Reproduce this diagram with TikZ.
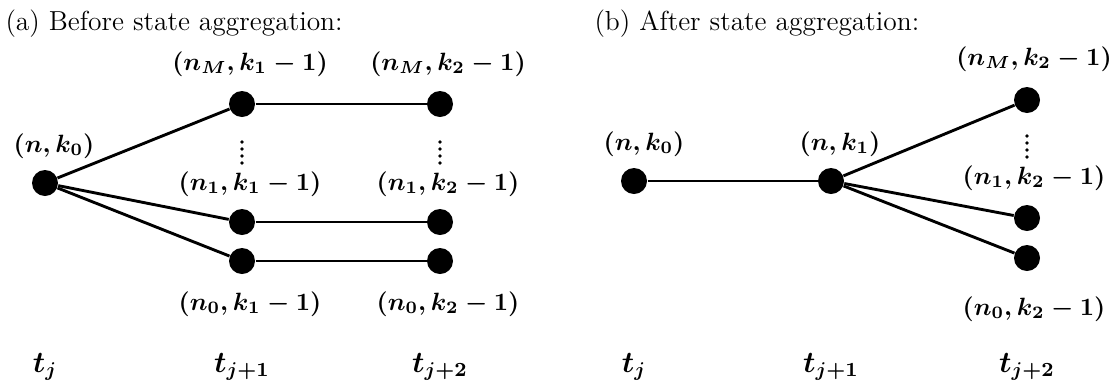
\RequirePackage{fix-cm}
\documentclass[tikz,border=0pt]{standalone}
\begin{document}
\begin{tikzpicture}[x=0.4pt,y=-0.4pt,
  statedot/.style={circle,fill=black,inner sep=0pt,minimum size=10.4pt},
  smalldot/.style={circle,fill=black,inner sep=0pt,minimum size=1.5pt},
  lab/.style={anchor=base,inner sep=0pt,font=\fontsize{10}{12}\selectfont\boldmath},
  tlab/.style={anchor=base,inner sep=0pt,font=\fontsize{12}{14}\selectfont\boldmath},
  ttl/.style={anchor=base west,inner sep=0pt,font=\fontsize{11}{13}\selectfont},
  edge/.style={line width=1.15pt}]
\useasboundingbox (0,0) rectangle (1115,388);

% titles
\node[ttl] (ta) at (5,30) {(a) Before state aggregation:};
\node[ttl] (tb) at (594,30) {(b) After state aggregation:};

% ---------- panel (a) ----------
\node[statedot] (a0) at (45,183) {};
\node[statedot] (aM1) at (242,104) {};
\node[statedot] (aM2) at (440,104) {};
\node[statedot] (a11) at (242,222) {};
\node[statedot] (a12) at (440,222) {};
\node[statedot] (a01) at (242,261) {};
\node[statedot] (a02) at (440,261) {};

\draw[edge] (a0) -- (aM1);
\draw[edge] (a0) -- (a11);
\draw[edge] (a0) -- (a01);
\draw[edge] (aM1) -- (aM2);
\draw[edge] (a11) -- (a12);
\draw[edge] (a01) -- (a02);

\foreach \y [count=\i] in {142,149,156,163}{
  \node[smalldot] (vda\i) at (242,\y) {};
  \node[smalldot] (vdb\i) at (440,\y) {};
}

\node[lab] (la0) at (54,152) {$(n, k_0)$};
\node[lab] (laM1) at (250,70) {$(n_M, k_1 - 1)$};
\node[lab] (laM2) at (448,70) {$(n_M, k_2 - 1)$};
\node[lab] (la11) at (250,190) {$(n_1, k_1 - 1)$};
\node[lab] (la12) at (448,190) {$(n_1, k_2 - 1)$};
\node[lab] (la01) at (250,310) {$(n_0, k_1 - 1)$};
\node[lab] (la02) at (448,310) {$(n_0, k_2 - 1)$};

\node[tlab] (tja) at (45,372) {$t_j$};
\node[tlab] (tj1a) at (242,372) {$t_{j+1}$};
\node[tlab] (tj2a) at (440,372) {$t_{j+2}$};

% ---------- panel (b) ----------
\node[statedot] (b0) at (634,181) {};
\node[statedot] (b1) at (831,181) {};
\node[statedot] (bM) at (1027,100) {};
\node[statedot] (b12) at (1027,218) {};
\node[statedot] (b02) at (1027,258) {};

\draw[edge] (b0) -- (b1);
\draw[edge] (b1) -- (bM);
\draw[edge] (b1) -- (b12);
\draw[edge] (b1) -- (b02);

\foreach \y [count=\i] in {136,143,150,157}{
  \node[smalldot] (vdc\i) at (1027,\y) {};
}

\node[lab] (lb0) at (644,150) {$(n, k_0)$};
\node[lab] (lb1) at (840,150) {$(n, k_1)$};
\node[lab] (lbM) at (1034,65) {$(n_M, k_2 - 1)$};
\node[lab] (lb12) at (1034,184) {$(n_1, k_2 - 1)$};
\node[lab] (lb02) at (1034,315) {$(n_0, k_2 - 1)$};

\node[tlab] (tjb) at (634,372) {$t_j$};
\node[tlab] (tj1b) at (831,372) {$t_{j+1}$};
\node[tlab] (tj2b) at (1027,372) {$t_{j+2}$};
\end{tikzpicture}
\end{document}
